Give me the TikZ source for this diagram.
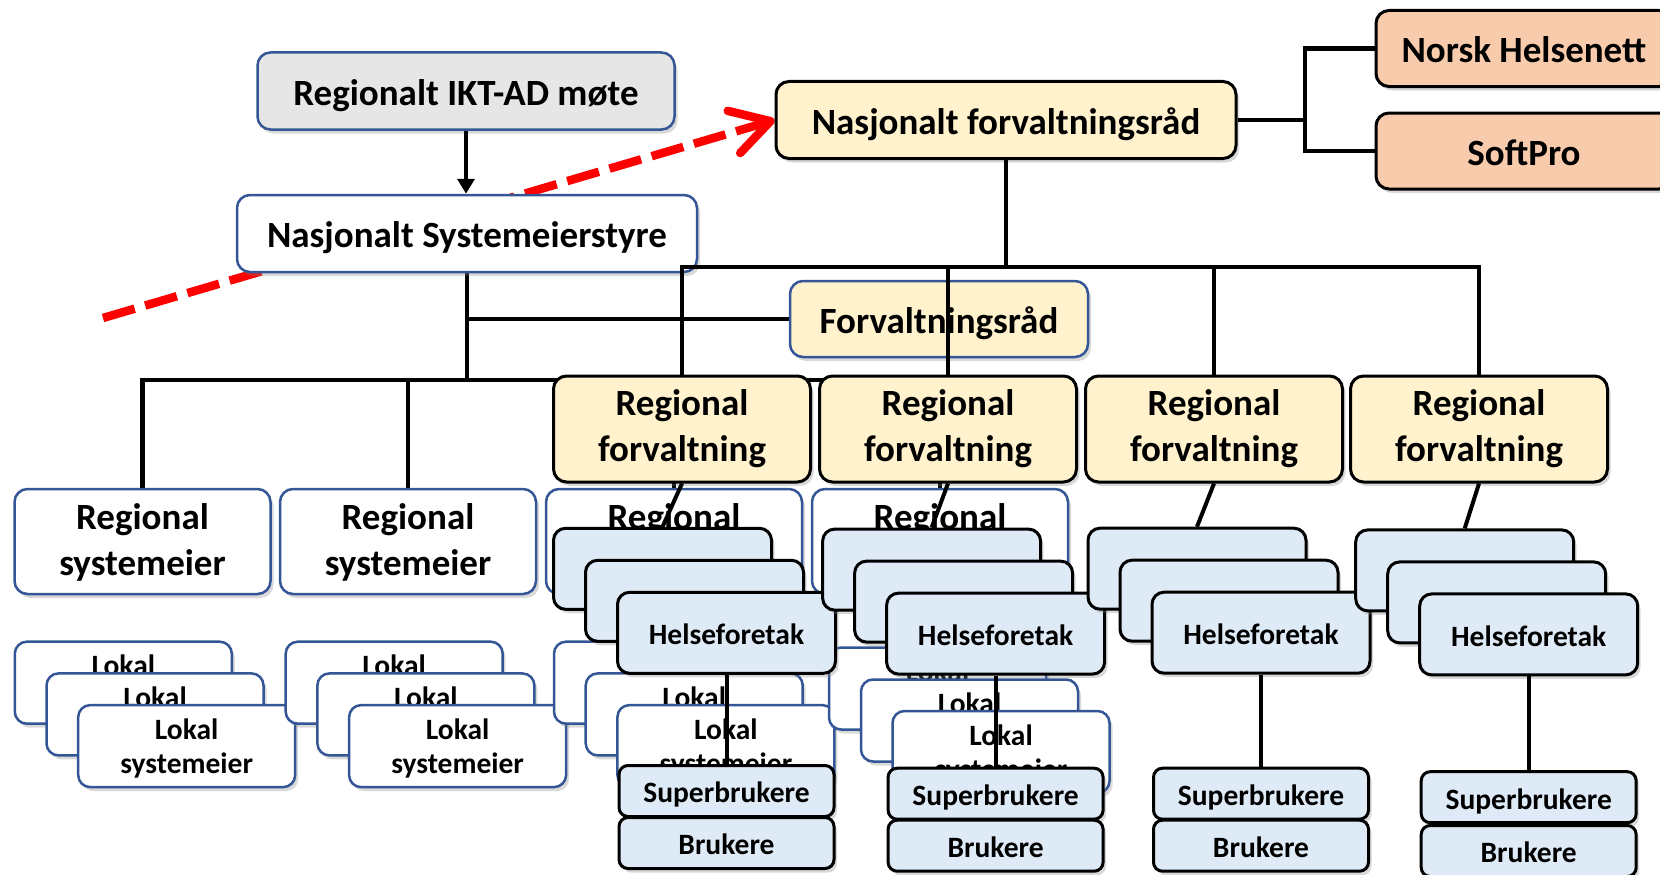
\documentclass[tikz,border=0pt]{standalone}
\usepackage{fontspec}
\setmainfont{Carlito}
\usetikzlibrary{arrows.meta,shadows}
\pgfdeclarelayer{background}
\pgfsetlayers{background,main}
\definecolor{edgeblue}{RGB}{52,86,150}
\definecolor{greyfill}{RGB}{231,230,230}
\definecolor{yellowfill}{RGB}{255,242,204}
\definecolor{salmonfill}{RGB}{248,203,173}
\definecolor{hffill}{RGB}{222,235,247}

\begin{document}
\begin{tikzpicture}[x=1pt,y=-1pt,
    boxstyle/.style={rounded corners=13pt, inner sep=0pt, align=center,
      drop shadow={shadow xshift=3pt, shadow yshift=-4pt, opacity=0.3}},
    bluestyle/.style={boxstyle, draw=edgeblue, line width=2.5pt},
    blackstyle/.style={boxstyle, draw=black, line width=3pt},
    bigfont/.style={font=\bfseries\fontsize{37}{46}\selectfont},
    smallfont/.style={font=\bfseries\fontsize{29.5}{34}\selectfont},
    bigline/.style={bigfont, text height=33.8pt, text depth=5.2pt},
    smallline/.style={smallfont, text height=27.8pt, text depth=4.1pt},
    iktstyle/.style={bluestyle, bigline, fill=greyfill, minimum width=417pt, minimum height=77pt},
    nssstyle/.style={bluestyle, bigline, fill=white, minimum width=460pt, minimum height=77pt},
    nfrstyle/.style={blackstyle, bigline, fill=yellowfill, minimum width=460pt, minimum height=77pt},
    partnerstyle/.style={blackstyle, bigline, fill=salmonfill, minimum width=296pt, minimum height=76pt},
    frstyle/.style={bluestyle, bigline, fill=yellowfill, minimum width=298pt, minimum height=76pt},
    rfstyle/.style={blackstyle, bigfont, text height=77pt, text depth=11.5pt, fill=yellowfill, minimum width=257pt, minimum height=106pt},
    rsstyle/.style={bluestyle, bigfont, text height=78pt, text depth=11pt, fill=white, minimum width=256pt, minimum height=105pt},
    lokalstyle/.style={bluestyle, smallfont, text height=62pt, text depth=8pt, fill=white, rounded corners=12pt, minimum width=217pt, minimum height=82pt},
    hfstyle/.style={blackstyle, smallline, fill=hffill, rounded corners=12pt, minimum width=218pt, minimum height=81pt},
    brukerstyle/.style={blackstyle, smallline, fill=hffill, rounded corners=9pt, minimum width=215pt, minimum height=51pt},
    linestyle/.style={line width=4.5pt},
    thinline/.style={line width=4pt},
    redarrow/.style={red, line width=8.5pt, dash pattern=on 33pt off 11pt, -{Straight Barb[length=38pt,width=44pt,round]}}]
    \useasboundingbox (0,0) rectangle (1660,875);
    \clip (0,0) rectangle (1660,875);

    \node[iktstyle] (IKT) at (466,91) {Regionalt IKT-AD møte};
    \node[nssstyle] (NSS) at (467,233.5) {Nasjonalt Systemeierstyre};
    \node[nfrstyle] (NFR) at (1006,120) {Nasjonalt forvaltningsråd};
    \node[partnerstyle] (NH) at (1524,48.5) {Norsk Helsenett};
    \node[partnerstyle] (SP) at (1524,151) {SoftPro};
    \node[frstyle] (FR) at (939,319) {Forvaltningsråd};

    \node[rfstyle] (RF1) at (682,429) {Regional\\forvaltning};
    \node[rfstyle] (RF2) at (948,429) {Regional\\forvaltning};
    \node[rfstyle] (RF3) at (1214,429) {Regional\\forvaltning};
    \node[rfstyle] (RF4) at (1479,429) {Regional\\forvaltning};

    \node[rsstyle] (RS1) at (142.5,541.5) {Regional\\systemeier};
    \node[rsstyle] (RS2) at (408,541.5) {Regional\\systemeier};
    \node[rsstyle] (RS3) at (674,541.5) {Regional\\systemeier};
    \node[rsstyle] (RS4) at (940,541.5) {Regional\\systemeier};

    \node[lokalstyle] (L1a) at (123.3,682.7) {Lokal\\systemeier};
    \node[lokalstyle] (L1b) at (155,714.4) {Lokal\\systemeier};
    \node[lokalstyle] (L1c) at (186.7,746.1) {Lokal\\systemeier};
    \node[lokalstyle] (L2a) at (394.2,682.7) {Lokal\\systemeier};
    \node[lokalstyle] (L2b) at (425.9,714.4) {Lokal\\systemeier};
    \node[lokalstyle] (L2c) at (457.6,746.1) {Lokal\\systemeier};
    \node[lokalstyle] (L3a) at (662.5,682.7) {Lokal\\systemeier};
    \node[lokalstyle] (L3b) at (694.2,714.4) {Lokal\\systemeier};
    \node[lokalstyle] (L3c) at (725.9,746.1) {Lokal\\systemeier};
    \node[lokalstyle] (L4a) at (937.5,688.5) {Lokal\\systemeier};
    \node[lokalstyle] (L4b) at (969.5,720.5) {Lokal\\systemeier};
    \node[lokalstyle] (L4c) at (1001,752) {Lokal\\systemeier};

    \node[hfstyle] (HA1) at (662.5,568.8) {};
    \node[hfstyle] (HA2) at (694.5,600.8) {};
    \node[hfstyle] (HA3) at (726.5,632.8) {Helseforetak};
    \node[hfstyle] (HB1) at (931.6,569.6) {};
    \node[hfstyle] (HB2) at (963.6,601.6) {};
    \node[hfstyle] (HB3) at (995.6,633.6) {Helseforetak};
    \node[hfstyle] (HC1) at (1197,568.7) {};
    \node[hfstyle] (HC2) at (1229,600.7) {};
    \node[hfstyle] (HC3) at (1261,632.7) {Helseforetak};
    \node[hfstyle] (HD1) at (1464.7,570.4) {};
    \node[hfstyle] (HD2) at (1496.7,602.4) {};
    \node[hfstyle] (HD3) at (1528.7,634.4) {Helseforetak};

    \node[brukerstyle] (SBA) at (726.5,791) {Superbrukere};
    \node[brukerstyle] (BA) at (726.5,843) {Brukere};
    \node[brukerstyle] (SBB) at (995.6,793.7) {Superbrukere};
    \node[brukerstyle] (BB) at (995.6,845.7) {Brukere};
    \node[brukerstyle] (SBC) at (1261,793.7) {Superbrukere};
    \node[brukerstyle] (BC) at (1261,845.7) {Brukere};
    \node[brukerstyle] (SBD) at (1528.7,797.2) {Superbrukere};
    \node[brukerstyle] (BD) at (1528.7,851) {Brukere};

    \coordinate (R0) at (103,318);
    \coordinate (S) at (467,380);
    \coordinate (T) at (1006,267);
    \coordinate (J) at (1305,120);

    \begin{pgfonlayer}{background}
      \draw[redarrow] (R0) -- (NFR.west);
      \draw[linestyle] (NSS) -- (S);
      \draw[linestyle] (S) -| (RS1);
      \draw[linestyle] (S) -| (RS2);
      \draw[linestyle] (S) -| (RS3);
      \draw[linestyle] (S) -| (RS4);
      \draw[linestyle] (NSS |- FR) -- (FR);
    \end{pgfonlayer}

    \draw[linestyle, -{Triangle[length=15pt,width=17pt]}] (IKT.south) -- (IKT.south |- NSS.north);
    \draw[linestyle] (NFR) -- (T);
    \draw[linestyle] (T) -| (RF1);
    \draw[linestyle] (T) -| (RF2);
    \draw[linestyle] (T) -| (RF3);
    \draw[linestyle] (T) -| (RF4);
    \draw[linestyle] (NFR) -- (J) |- (NH);
    \draw[linestyle] (J) |- (SP);

    \draw[thinline] (RF1.south) -- (HA1.north);
    \draw[thinline] (RF2.south) -- (HB1.north);
    \draw[thinline] (RF3.south) -- (HC1.north);
    \draw[thinline] (RF4.south) -- (HD1.north);

    \draw[thinline] (HA3) -- (SBA);
    \draw[thinline] (HB3) -- (SBB);
    \draw[thinline] (HC3) -- (SBC);
    \draw[thinline] (HD3) -- (SBD);
\end{tikzpicture}
\end{document}
